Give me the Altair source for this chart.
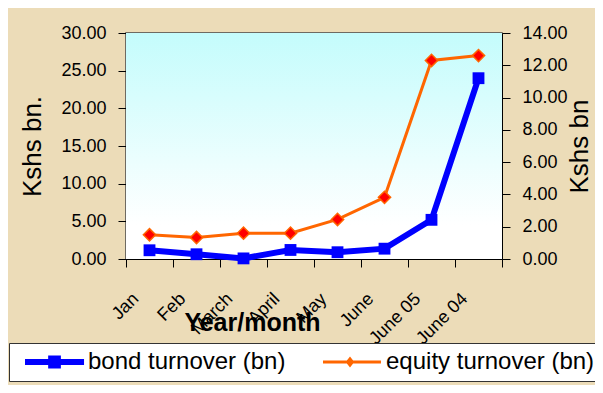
import altair as alt
import pandas as pd

months = ["Jan", "Feb", "March", "April", "May", "June", "June 05", "June 04"]
bond = [1.16, 0.63, 0.08, 1.2, 0.9, 1.37, 5.2, 24.0]
equity = [1.5, 1.33, 1.6, 1.6, 2.45, 3.82, 12.3, 12.6]
series = ["bond turnover (bn)", "equity turnover (bn)"]
series_colors = ["#0000FF", "#FF6600"]
left_ticks = [0, 5, 10, 15, 20, 25, 30]
right_ticks = [0, 2, 4, 6, 8, 10, 12, 14]

W, H = 376, 226

df = pd.DataFrame({"month": months, "bond": bond, "equity": equity})
leg_df = pd.DataFrame({"series": series})
panel_df = pd.DataFrame({"panel": [1]})

FONT = "Liberation Sans"

# legend glyphs: line + marker (unit = half of symbol box, 12px)
bond_path = ("M-0.25,-0.25L4.67,-0.25L4.67,0.25L-0.25,0.25Z "
             "M1.68,-0.54L2.74,-0.54L2.74,0.54L1.68,0.54Z")
eq_path = ("M-0.25,-0.125L4.58,-0.125L4.58,0.125L-0.25,0.125Z "
           "M2.0,-0.46L2.36,0L2.0,0.46L1.64,0Z")

xenc = alt.X(
    "month:N", sort=months,
    scale=alt.Scale(type="band", paddingInner=0, paddingOuter=0),
    axis=alt.Axis(
        title="Year/month", labelAngle=315, labelAlign="right", labelBaseline="middle",
        labelPadding=29, labelOffset=-14, labelFontSize=18, labelFont=FONT,
        labelColor="black", labelOverlap=False, labelLimit=200,
        tickBand="extent", tickSize=8, tickColor="black", domainColor="black",
        titleFont=FONT, titleFontSize=25, titleFontWeight="bold", titleColor="black",
        titleX=126, titleY=71, titleAlign="center", titleBaseline="alphabetic",
        grid=False,
    ),
)

y_bond = alt.Y("bond:Q", scale=alt.Scale(domain=[0, 30], nice=False),
               axis=alt.Axis(orient="left", values=left_ticks, format=".2f", title="Kshs bn.",
                             labelFont=FONT, labelFontSize=18, labelColor="black",
                             labelPadding=12, tickSize=8, tickColor="black", domainColor="black",
                             labelOverlap=False,
                             titleFont=FONT, titleFontSize=26, titleFontWeight="normal",
                             titleColor="black", titleAngle=270, titleX=-94, titleY=113,
                             titleBaseline="middle", titleAlign="center", grid=False))

y_eq = alt.Y("equity:Q", scale=alt.Scale(domain=[0, 14], nice=False),
             axis=alt.Axis(orient="right", values=right_ticks, format=".2f", title="Kshs bn",
                           labelFont=FONT, labelFontSize=18, labelColor="black",
                           labelPadding=12, tickSize=8, tickColor="black", domainColor="black",
                           labelOverlap=False,
                           titleFont=FONT, titleFontSize=26, titleFontWeight="normal",
                           titleColor="black", titleAngle=270, titleX=77, titleY=113,
                           titleBaseline="middle", titleAlign="center", grid=False))

gradient = alt.LinearGradient(
    gradient="linear", x1=0, y1=0, x2=0, y2=1,
    stops=[alt.GradientStop(offset=0, color="#C4FCFC"),
           alt.GradientStop(offset=0.85, color="#FFFFFF"),
           alt.GradientStop(offset=1, color="#FFFFFF")])

panel = alt.Chart(panel_df).mark_rect(color=gradient).encode(
    x=alt.value(0), x2=alt.value(W), y=alt.value(0), y2=alt.value(H))

base = alt.Chart(df)

bond_line = base.mark_line(color="#0000FF", strokeWidth=6).encode(x=xenc, y=y_bond)
bond_pts = base.mark_point(shape="square", filled=True, color="#0000FF", size=140,
                           opacity=1).encode(x=xenc, y=y_bond)

eq_line = base.mark_line(color="#FF6600", strokeWidth=3).encode(x=xenc, y=y_eq)
eq_pts = base.mark_point(shape="diamond", filled=True, fill="#FF0000", stroke="#FF6600",
                         strokeWidth=1.5, size=150, opacity=1).encode(x=xenc, y=y_eq)

leg = alt.Legend(
    orient="none", legendX=-117, legendY=310, direction="horizontal",
    title=None, labelFont=FONT, labelFontSize=24, labelColor="black",
    symbolSize=576, symbolStrokeWidth=0, symbolOpacity=1,
    fillColor="white", strokeColor="#333333", padding=7,
    columnPadding=28, labelOffset=48, labelLimit=400)

legend_layer = alt.Chart(leg_df).mark_point(filled=True).encode(
    color=alt.Color("series:N", scale=alt.Scale(domain=series, range=series_colors), legend=leg),
    shape=alt.Shape("series:N", scale=alt.Scale(domain=series, range=[bond_path, eq_path]), legend=leg),
).transform_filter("false")

chart = alt.layer(
    panel,
    alt.layer(bond_line, bond_pts),
    alt.layer(eq_line, eq_pts),
    legend_layer,
).resolve_scale(y="independent").properties(
    width=W, height=H,
    autosize=alt.AutoSizeParams(type="none"),
    padding={"left": 118, "top": 25, "right": 93, "bottom": 126},
    background="#ECDCB8",
).configure_view(
    stroke="#444444", strokeWidth=1.5,
)

chart.save("out.html", embed_options={"renderer": "svg", "actions": False})
